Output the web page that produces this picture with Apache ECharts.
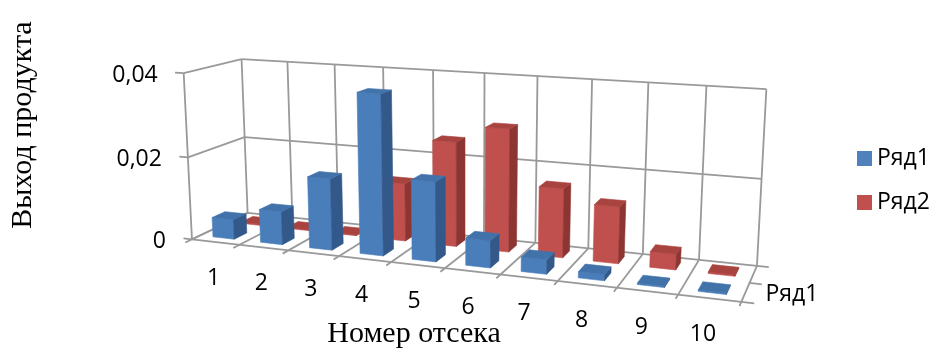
<!DOCTYPE html>
<html>
<head>
<meta charset="utf-8">
<script src="https://cdn.jsdelivr.net/npm/echarts@6/dist/echarts.min.js"></script>
<style>
  html, body { margin: 0; padding: 0; background: #ffffff; }
  #chart { width: 935px; height: 349px; }
</style>
</head>
<body>
<div id="chart"></div>
<script>
// ---- data ----
const categories = ['1', '2', '3', '4', '5', '6', '7', '8', '9', '10'];
const seriesNames = ['Ряд1', 'Ряд2'];
const row1 = [0.0048, 0.008, 0.017, 0.0375, 0.0185, 0.0063, 0.0033, 0.0014, 0.0003, 0.0003];
const row2 = [0.0003, 0.0002, 0.0002, 0.014, 0.025, 0.029, 0.0162, 0.0132, 0.0036, 0.0003];
const valueTicks = [0, 0.02, 0.04];
const valueMax = 0.04;
const depthLabel = 'Ряд1';

// ---- 3D box view ----
// world space: X along categories (0..N), Y = value share of the axis (0..1),
// Z = depth row (0 front .. 2 back). The view is described by where the
// corners of the box land on screen; a projective camera is fitted to them.
const boxView = [
  [[0, 1, 0], [183, 74]],
  [[0, 0.5, 0], [188, 157]],
  [[0, 0, 0], [193, 238]],
  [[0, 1, 2], [242, 58]],
  [[0, 0, 2], [247, 215]],
  [[5, 1, 2], [485, 73]],
  [[10, 1, 2], [766, 90]],
  [[10, 0, 2], [757, 264]],
  [[10, 0, 0], [742, 303]],
  [[5, 0, 0], [444, 268]]
];

function fitCamera(pairs) {
  const S = 500, n = 11;
  const M = Array.from({ length: n }, () => new Array(n + 1).fill(0));
  const add = (r, b) => {
    for (let i = 0; i < n; i++) {
      for (let j = 0; j < n; j++) M[i][j] += r[i] * r[j];
      M[i][n] += r[i] * b;
    }
  };
  pairs.forEach(([[X, Y, Z], [u0, v0]]) => {
    const u = u0 / S, v = v0 / S;
    add([X, Y, Z, 1, 0, 0, 0, 0, -u * X, -u * Y, -u * Z], u);
    add([0, 0, 0, 0, X, Y, Z, 1, -v * X, -v * Y, -v * Z], v);
  });
  for (let c = 0; c < n; c++) {
    let piv = c;
    for (let r = c + 1; r < n; r++) if (Math.abs(M[r][c]) > Math.abs(M[piv][c])) piv = r;
    [M[c], M[piv]] = [M[piv], M[c]];
    for (let r = 0; r < n; r++) {
      if (r === c) continue;
      const f = M[r][c] / M[c][c];
      for (let k = c; k <= n; k++) M[r][k] -= f * M[c][k];
    }
  }
  const p = M.map((row, i) => row[n] / row[i]);
  return (X, Y, Z) => {
    const w = p[8] * X + p[9] * Y + p[10] * Z + 1;
    return [
      S * (p[0] * X + p[1] * Y + p[2] * Z + p[3]) / w,
      S * (p[4] * X + p[5] * Y + p[6] * Z + p[7]) / w
    ];
  };
}
const project = fitCamera(boxView);

const N = categories.length;
const DEPTH = seriesNames.length;
const BAR_W = 0.45;
const BAR_D = 0.45;
const GRID_COLOR = '#999999';
const LABEL_FONT = '23px "Open Sans", "Noto Sans", sans-serif';
const TITLE_FONT = '30px "Liberation Serif", "DejaVu Serif", serif';

const palette = [
  { front: '#4A7EBB', top: '#4272AA', side: '#33588A', legend: '#4F81BD' },
  { front: '#C0504D', top: '#A8433F', side: '#8C3532', legend: '#C0504D' }
];

// world coordinates of a value point through the hidden cartesian scales
function toWorld(params, api, idx, val) {
  const cs = params.coordSys;
  const pt = api.coord([idx, val]);
  return {
    X: (pt[0] - cs.x) / cs.width * N,
    Y: (cs.y + cs.height - pt[1]) / cs.height
  };
}

function poly(points, fill) {
  return {
    type: 'polygon',
    shape: { points: points },
    style: { fill: fill, stroke: fill, lineWidth: 0.6 }
  };
}

function line(a, b) {
  return {
    type: 'line',
    shape: { x1: a[0], y1: a[1], x2: b[0], y2: b[1] },
    style: { stroke: GRID_COLOR, lineWidth: 1.8 }
  };
}

function text(pt, str, align, vAlign, font) {
  return {
    type: 'text',
    x: pt[0], y: pt[1],
    style: {
      text: str, fill: '#000000', font: font,
      align: align, verticalAlign: vAlign
    }
  };
}

function barRenderer(row) {
  const zc = row + 0.5;
  const col = palette[row];
  return function (params, api) {
    const idx = api.value(0);
    const w = toWorld(params, api, idx, api.value(1));
    const X = w.X, Y = w.Y;
    const x0 = X - BAR_W / 2, x1 = X + BAR_W / 2;
    const z0 = zc - BAR_D / 2, z1 = zc + BAR_D / 2;
    const front = [project(x0, 0, z0), project(x1, 0, z0), project(x1, Y, z0), project(x0, Y, z0)];
    const side = [project(x1, 0, z0), project(x1, 0, z1), project(x1, Y, z1), project(x1, Y, z0)];
    const top = [project(x0, Y, z0), project(x1, Y, z0), project(x1, Y, z1), project(x0, Y, z1)];
    return {
      type: 'group',
      children: [poly(front, col.front), poly(side, col.side), poly(top, col.top)]
    };
  };
}

function frameRenderer(params, api) {
  const ch = [];
  const P = project;
  const ys = valueTicks.map(t => toWorld(params, api, 0, t).Y);
  // back wall
  for (let i = 0; i <= N; i++) ch.push(line(P(i, 0, DEPTH), P(i, 1, DEPTH)));
  ys.forEach(y => ch.push(line(P(0, y, DEPTH), P(N, y, DEPTH))));
  // side wall
  ch.push(line(P(0, 0, 0), P(0, 1, 0)));
  ys.forEach(y => ch.push(line(P(0, y, 0), P(0, y, DEPTH))));
  // floor
  for (let i = 0; i <= N; i++) ch.push(line(P(i, 0, -0.22), P(i, 0, DEPTH)));
  ch.push(line(P(0, 0, 0), P(N, 0, 0)));
  // depth axis with ticks
  for (let d = 0; d <= DEPTH; d++) ch.push(line(P(N, 0, d), P(N + 0.2, 0, d)));
  // value ticks and labels
  valueTicks.forEach((t, k) => {
    const y = ys[k];
    ch.push(line(P(-0.18, y, 0), P(0, y, 0)));
    const a = P(0, y, 0);
    ch.push(text([a[0] - 26, a[1] + 2], String(t).replace('.', ','), 'right', 'middle', LABEL_FONT));
  });
  // category labels
  categories.forEach((c, i) => {
    const a = P(i + 0.5, 0, 0);
    ch.push(text([a[0] - 2 - 0.5 * i, a[1] + 36], c, 'center', 'middle', LABEL_FONT));
  });
  // depth label
  const dl = P(N, 0, 0.5);
  ch.push(text([dl[0] + 20, dl[1] + 2], depthLabel, 'left', 'middle', LABEL_FONT));
  return { type: 'group', children: ch };
}

const chart = echarts.init(document.getElementById('chart'), null, { renderer: 'canvas' });

const option = {
  backgroundColor: '#ffffff',
  animation: false,
  grid: { left: 0, top: 0, right: 0, bottom: 0 },
  xAxis: { type: 'category', data: categories, show: false },
  yAxis: { type: 'value', min: 0, max: valueMax, show: false },
  legend: {
    data: seriesNames,
    orient: 'vertical',
    left: 857,
    top: 147,
    padding: 0,
    icon: 'rect',
    itemWidth: 15,
    itemHeight: 15,
    itemGap: 21,
    selectedMode: false,
    textStyle: { fontSize: 23, fontFamily: '"Open Sans", "Noto Sans", sans-serif', color: '#000', lineHeight: 22 }
  },
  graphic: [
    {
      type: 'text', x: 23, y: 125, rotation: Math.PI / 2,
      style: { text: 'Выход продукта', font: TITLE_FONT, fill: '#000', align: 'center', verticalAlign: 'middle' }
    },
    {
      type: 'text', x: 414, y: 334,
      style: { text: 'Номер отсека', font: TITLE_FONT, fill: '#000', align: 'center', verticalAlign: 'middle' }
    }
  ],
  series: [
    {
      type: 'custom', name: '_frame', silent: true, clip: false, z: 1,
      renderItem: frameRenderer,
      data: [[0, 0]]
    },
    {
      type: 'custom', name: seriesNames[1], clip: false, z: 2,
      itemStyle: { color: palette[1].legend },
      renderItem: barRenderer(1),
      encode: { x: 0, y: 1 },
      data: row2.map((v, i) => [i, v])
    },
    {
      type: 'custom', name: seriesNames[0], clip: false, z: 3,
      itemStyle: { color: palette[0].legend },
      renderItem: barRenderer(0),
      encode: { x: 0, y: 1 },
      data: row1.map((v, i) => [i, v])
    }
  ]
};

chart.setOption(option);
</script>
</body>
</html>
